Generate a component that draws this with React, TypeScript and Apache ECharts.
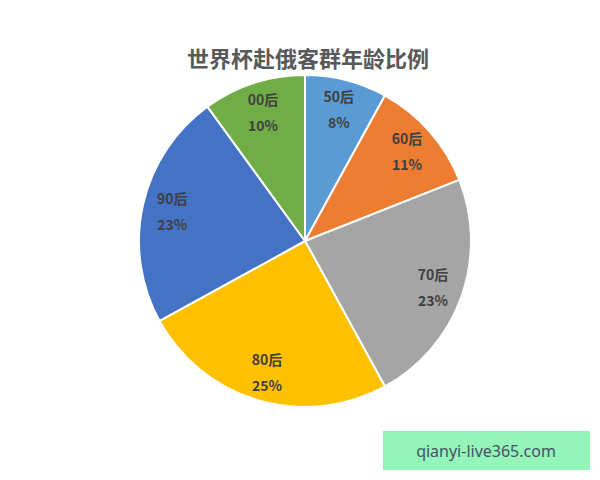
import React, { useEffect, useRef } from "react";
import * as echarts from "echarts";

const categories = ["50后", "60后", "70后", "80后", "90后", "00后"];
const values = [8, 11, 23, 25, 23, 10];
const colors = ["#5B9BD5", "#ED7D31", "#A5A5A5", "#FFC000", "#4472C4", "#70AD47"];
const titleText = "世界杯赴俄客群年龄比例";
const watermarkText = "qianyi-live365.com";

export default function App() {
  const ref = useRef<HTMLDivElement>(null);
  useEffect(() => {
    if (!ref.current) return;
    const chart = echarts.init(ref.current, null, { renderer: "svg" });
    const data = categories.map((c, i) => ({
      name: c,
      value: values[i],
      itemStyle: { color: colors[i] },
    }));
    const font = "'Noto Sans CJK SC', 'Noto Sans', sans-serif";
    chart.setOption({
      animation: false,
      title: {
        text: titleText,
        left: 303,
        top: 41,
        textAlign: "center",
        textStyle: {
          fontFamily: font,
          fontSize: 22,
          fontWeight: "bold",
          color: "#595959",
        },
      },
      series: [
        {
          type: "pie",
          center: [305, 241],
          radius: [0, 166],
          startAngle: 90,
          clockwise: true,
          silent: true,
          itemStyle: { borderColor: "#ffffff", borderWidth: 2 },
          label: { show: false },
          labelLine: { show: false },
          data,
        },
        {
          type: "pie",
          center: [305, 241],
          radius: [100, 166],
          startAngle: 90,
          clockwise: true,
          silent: true,
          itemStyle: { color: "transparent", borderWidth: 0 },
          label: {
            show: true,
            position: "inside",
            formatter: (p: any) => `${p.name}\n${p.value}%`,
            fontFamily: font,
            fontSize: 14,
            fontWeight: "bold",
            color: "#404040",
            lineHeight: 26,
          },
          labelLine: { show: false },
          data: categories.map((c, i) => ({ name: c, value: values[i] })),
        },
      ],
      graphic: [
        {
          type: "rect",
          shape: { x: 383, y: 431, width: 207, height: 39 },
          style: { fill: "#93F5B8" },
        },
        {
          type: "text",
          x: 486,
          y: 451,
          style: {
            text: watermarkText,
            fill: "#4A4F6A",
            fontSize: 16,
            fontFamily: "'Noto Sans', sans-serif",
            align: "center",
            verticalAlign: "middle",
          },
        },
      ],
    });
    return () => chart.dispose();
  }, []);
  return (
    <div
      ref={ref}
      style={{ position: "fixed", left: 0, top: 0, width: 600, height: 480, background: "#ffffff" }}
    />
  );
}
